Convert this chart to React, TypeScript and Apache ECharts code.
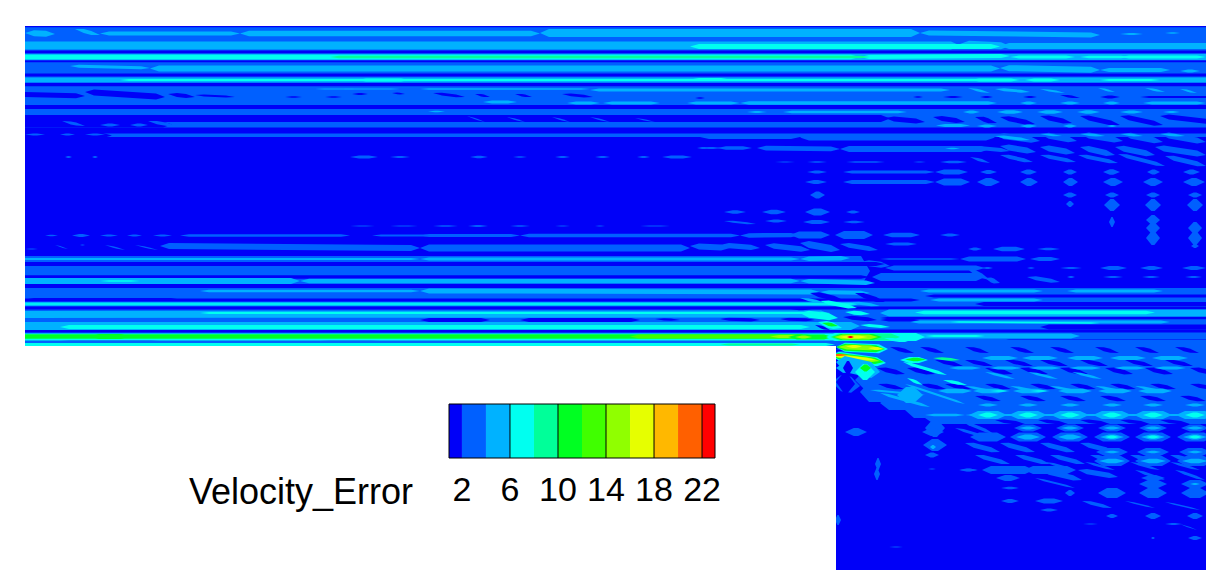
import React, { useEffect, useRef } from "react";
import * as echarts from "echarts";

// Contour levels of the colour scale (blue to red)
const levelColors = ["#0000f8", "#0060ff", "#00b2ff", "#00fff0", "#00ff99", "#00ff22", "#40ff00", "#90ff00", "#e6ff00", "#ffb800", "#ff6000", "#ff0000"];
// Legend: level edges on the value axis
const legendEdges = [0.92, 2, 4, 6, 8, 10, 12, 14, 16, 18, 20, 22, 23.08];
const legendTicks = [2, 6, 10, 14, 18, 22];
const legendLines = [6, 10, 14, 18, 22];
const legendTitle = "Velocity_Error";

// Domain: [x0, y0, x1, y1]
const domainBlocks = [[25, 26, 1206, 346], [836, 346, 1206, 570]];
const notchBlock = [25, 346, 836, 570];

// Contour features: [x0, y0, x1, y1, halfThickness, level]
const upperBase = [
  [0, 82, 1240, 82, 55, 1],
];
const upperGaps = [
  [0, 26.2, 1240, 26.2, 1, 0],
  [0, 52, 1240, 52, 1.5, 0],
  [0, 61, 1240, 61, 1.2, 0],
  [0, 75, 1240, 75, 1.6, 0],
  [0, 84.5, 1240, 84.5, 1.8, 0],
  [0, 107, 1240, 107, 2, 0],
  [0, 118.5, 890, 118.5, 3.6, 0],
  [0, 130.5, 1240, 130.5, 3, 0],
  [0, 124.5, 172, 124.5, 3, 0],
  [0, 135.5, 112, 135.5, 2.5, 0],
  [0, 94, 85, 96, 2.5, 0],
  [85, 92, 165, 97, 3, 0],
  [168, 94, 195, 97, 2, 0],
  [195, 95, 235, 97, 1, 0],
  [285, 97, 302, 97, 0.8, 0],
  [325, 97, 342, 97, 0.8, 0],
  [352, 94, 368, 94, 1, 0],
  [392, 93, 405, 94, 0.9, 0],
  [433, 93, 465, 97, 1.3, 0],
  [475, 94, 490, 97, 1.2, 0],
  [515, 94, 532, 97, 1.2, 0],
  [562, 94, 593, 97, 1.3, 0],
  [695, 98, 705, 98, 0.8, 0],
  [913, 97, 923, 97, 0.8, 0],
  [943, 97, 963, 97, 1, 0],
  [980, 97, 993, 97, 1, 0],
  [1023, 97, 1037, 97, 1, 0],
  [1060, 95, 1080, 98, 1.2, 0],
  [1100, 97, 1120, 97, 1.5, 0],
  [1140, 97, 1240, 97, 1, 0],
  [885, 118, 925, 122, 2.5, 0],
  [933, 117, 965, 122, 2.5, 0],
  [975, 117, 997, 123, 2.5, 0],
  [1000, 117, 1035, 124, 2.5, 0],
  [1040, 116, 1072, 123, 2.5, 0],
  [1080, 116, 1120, 125, 2.5, 0],
  [1120, 116, 1163, 125, 2.5, 0],
  [1160, 116, 1240, 125, 2.5, 0],
];
const upperStreaks = [
  [62, 121, 85, 126, 1.5, 1],
  [100, 125, 120, 125, 1.6, 1],
  [130, 125, 148, 125, 1.6, 1],
  [148, 121, 176, 126, 1.7, 1],
  [25, 134.5, 45, 134.5, 1, 1],
  [60, 134.5, 75, 134.5, 1, 1],
  [85, 134.5, 105, 134.5, 1, 1],
  [467, 116, 485, 122, 0.7, 1],
  [507, 117, 525, 122, 0.7, 1],
  [552, 117, 570, 122, 0.7, 1],
  [590, 117, 610, 122, 0.7, 1],
  [635, 118, 655, 122, 0.7, 1],
  [800, 137.5, 995, 137.5, 3, 1],
  [700, 137, 800, 137, 2, 1],
  [995, 135, 1040, 141, 3, 1],
  [1040, 134, 1077, 141, 3, 1],
  [1080, 134, 1123, 141, 3, 1],
  [1122, 134, 1163, 142, 3, 1],
  [1160, 134, 1206, 142, 3, 1],
  [700, 148, 722, 148, 1, 1],
  [717, 148, 752, 148, 1.8, 1],
  [757, 148, 840, 149, 2.4, 1],
  [840, 149, 990, 149, 3, 1],
  [970, 147, 1010, 151, 2, 1],
  [1000, 146, 1036, 152, 3, 1],
  [1040, 147, 1075, 153, 3, 1],
  [1080, 147, 1115, 155, 3, 1],
  [1115, 147, 1155, 155, 3, 1],
  [1155, 147, 1206, 155, 3, 1],
  [970, 157, 990, 163, 1.5, 1],
  [1000, 155, 1033, 162, 2, 1],
  [1040, 155, 1076, 162, 2, 1],
  [1078, 155, 1118, 163, 2, 1],
  [1118, 154, 1165, 166, 2, 1],
  [1165, 156, 1206, 166, 2.5, 1],
  [65, 157, 72, 157, 1, 1],
  [92, 157, 98, 157, 1, 1],
  [350, 157, 378, 157, 1.5, 1],
  [390, 157, 410, 157, 1, 1],
  [470, 157, 488, 157, 1.2, 1],
  [513, 157, 527, 157, 0.8, 1],
  [555, 157, 570, 157, 1, 1],
  [595, 157, 610, 157, 1, 1],
  [637, 157, 650, 157, 1, 1],
  [662, 157, 692, 157, 1.4, 1],
  [697, 148, 710, 148, 1, 1],
  [807, 162, 827, 162, 0.7, 1],
  [846, 162, 885, 162, 0.8, 1],
  [913, 162, 926, 162, 0.6, 1],
  [940, 162, 967, 162, 1.2, 1],
  [775, 162, 795, 162, 0.6, 1],
  [807, 172, 827, 172, 1.5, 1],
  [843, 172, 935, 172, 1.4, 1],
  [935, 172, 968, 172, 2.5, 1],
  [980, 172, 997, 172, 2, 1],
  [1020, 172, 1037, 172, 2.4, 1],
  [1063, 172, 1077, 172, 2.4, 1],
  [1103, 172, 1120, 172, 2.8, 1],
  [1147, 172, 1160, 172, 2.4, 1],
  [1183, 172, 1200, 172, 2.4, 1],
  [805, 182, 827, 182, 2, 1],
  [843, 182, 935, 182, 2, 1],
  [935, 182, 970, 182, 3.5, 1],
  [977, 182, 1000, 182, 4, 1],
  [1020, 182, 1038, 182, 4, 1],
  [1063, 182, 1078, 182, 4, 1],
  [1103, 182, 1123, 182, 4, 1],
  [1143, 182, 1163, 182, 4, 1],
  [1183, 182, 1205, 182, 4, 1],
];
const upperCores = [
  [25, 33, 55, 34, 3, 2],
  [75, 29, 100, 35, 2, 2],
  [100, 33.5, 240, 33.5, 2, 2],
  [240, 33.5, 540, 33.5, 2.8, 2],
  [540, 33, 920, 33, 4, 2],
  [920, 33, 1100, 35, 2.5, 2],
  [1120, 34, 1143, 34, 1, 2],
  [1165, 33, 1180, 33, 0.8, 2],
  [0, 45.5, 960, 45.5, 4, 2],
  [960, 44, 1010, 46, 3.5, 2],
  [1000, 46, 1240, 46, 3, 2],
  [690, 46.5, 1000, 46.5, 2.4, 3],
  [0, 57, 1240, 57, 3.2, 2],
  [0, 57, 860, 57, 2.2, 3],
  [860, 57, 1010, 56, 2, 3],
  [1010, 57, 1075, 57, 1.5, 3],
  [1080, 57, 1130, 57, 1.2, 3],
  [1120, 57, 1206, 57, 1.5, 3],
  [330, 57, 870, 57, 1.2, 4],
  [70, 66, 150, 68, 1.5, 2],
  [150, 68.5, 1000, 68.5, 3, 2],
  [1000, 68, 1100, 70, 3, 2],
  [1100, 70, 1170, 70, 2, 2],
  [1180, 71, 1200, 71, 1.5, 2],
  [0, 80, 1240, 80, 2.4, 2],
  [120, 80, 1000, 80, 1, 3],
  [357, 80, 410, 80, 1.5, 3],
  [690, 79.5, 730, 79.5, 1.4, 3],
  [970, 80, 1020, 80, 1.4, 3],
  [1025, 80, 1060, 80, 1.4, 3],
  [1100, 80, 1160, 80, 1.1, 3],
  [315, 89, 355, 89, 0.6, 2],
  [343, 89, 400, 89, 0.6, 2],
  [420, 89, 590, 89, 0.8, 2],
  [590, 90, 950, 90, 1.6, 2],
  [968, 88, 990, 93, 1.2, 2],
  [995, 89, 1030, 92, 1.4, 2],
  [1040, 89, 1065, 93, 1, 2],
  [1098, 88, 1115, 92, 1, 2],
  [1145, 88, 1165, 92, 1.2, 2],
  [1180, 89, 1197, 93, 1, 2],
  [483, 102, 517, 102, 1.6, 2],
  [567, 103, 600, 103, 1.6, 2],
  [603, 103, 660, 103, 1.6, 2],
  [687, 103, 740, 103, 1.6, 2],
  [740, 103, 997, 103, 1.8, 2],
  [1020, 103, 1037, 103, 1.5, 2],
  [1060, 103, 1080, 103, 1.5, 2],
  [1103, 103, 1120, 103, 1.5, 2],
  [1143, 103, 1206, 103, 1.5, 2],
  [428, 111.5, 445, 111.5, 0.8, 2],
  [747, 112, 767, 112, 0.9, 2],
  [783, 112, 907, 112, 1.2, 2],
  [963, 112, 980, 112, 1.5, 2],
  [997, 112, 1023, 112, 1.8, 2],
  [1037, 112, 1063, 112, 1.8, 2],
  [1077, 112, 1100, 112, 1.8, 2],
  [1120, 112, 1143, 112, 1.5, 2],
  [1163, 112, 1180, 112, 1, 2],
  [936, 125.5, 970, 125.5, 1.5, 2],
  [977, 126, 997, 126, 1.5, 2],
  [1020, 126, 1037, 126, 1.5, 2],
  [1063, 126, 1077, 126, 1.5, 2],
  [1107, 126, 1117, 126, 1, 2],
  [995, 136, 1030, 140, 1.5, 2],
  [1040, 134, 1062, 136, 1, 2],
  [1080, 134, 1105, 136, 1.2, 2],
  [1120, 134, 1143, 136, 1.2, 2],
  [1160, 134, 1185, 136, 1.2, 2],
  [945, 148.5, 960, 148.5, 0.7, 2],
];
const lowerBase = [
  [350, 226, 375, 226, 0.6, 1],
  [390, 226, 418, 226, 0.6, 1],
  [433, 226, 458, 226, 0.8, 1],
  [468, 226, 488, 226, 0.9, 1],
  [510, 226, 530, 226, 0.7, 1],
  [555, 226, 570, 226, 0.6, 1],
  [595, 226, 605, 226, 0.5, 1],
  [640, 226, 670, 226, 0.6, 1],
  [724, 212, 746, 212, 1.8, 1],
  [762, 212, 786, 212, 2.2, 1],
  [805, 212, 830, 212, 3.5, 1],
  [724, 221, 756, 224, 1, 1],
  [765, 221, 787, 221, 1.4, 1],
  [803, 222, 830, 222, 2, 1],
  [810, 195, 825, 195, 3.5, 1],
  [846, 212, 860, 212, 1.4, 1],
  [843, 222, 865, 222, 1.3, 1],
  [45, 235.5, 58, 235.5, 0.8, 1],
  [72, 235.5, 90, 235.5, 1.4, 1],
  [100, 235.5, 118, 235.5, 0.9, 1],
  [127, 235.5, 142, 235.5, 1, 1],
  [153, 235.5, 172, 235.5, 1, 1],
  [180, 235.5, 350, 235.5, 1.3, 1],
  [372, 235.5, 435, 235.5, 1, 1],
  [420, 235.5, 520, 235.5, 1.4, 1],
  [520, 235.5, 740, 235.5, 1.8, 1],
  [740, 235.5, 800, 235, 2.2, 1],
  [790, 235, 830, 235, 3.5, 1],
  [835, 235, 873, 235, 4, 1],
  [883, 235, 920, 235, 2.3, 1],
  [940, 235, 960, 235, 1.6, 1],
  [25, 249, 38, 249, 0.4, 1],
  [55, 245, 68, 249, 0.5, 1],
  [80, 245, 85, 245, 0.6, 1],
  [105, 245, 125, 250, 0.7, 1],
  [135, 245, 158, 250, 0.7, 1],
  [160, 246, 420, 248, 3, 1],
  [420, 248, 690, 248, 3.5, 1],
  [690, 246, 730, 248, 3, 1],
  [720, 245, 760, 248, 2.6, 1],
  [765, 245, 810, 250, 2.8, 1],
  [800, 243, 840, 250, 3.5, 1],
  [840, 244, 878, 250, 2.3, 1],
  [885, 244, 917, 244, 1.6, 1],
  [968, 249, 982, 249, 1.4, 1],
  [993, 249, 1025, 249, 2.3, 1],
  [1037, 249, 1060, 249, 1.3, 1],
  [0, 271, 870, 271, 15, 1],
  [860, 262, 890, 266, 3, 1],
  [885, 268, 985, 268, 2.6, 1],
  [965, 267, 990, 280, 2.4, 1],
  [880, 259, 960, 259, 0.8, 1],
  [960, 259, 1026, 259, 2.5, 1],
  [1030, 259, 1060, 259, 2, 1],
  [982, 268, 993, 268, 1, 1],
  [1027, 268, 1035, 268, 0.8, 1],
  [1060, 268, 1082, 268, 1, 1],
  [1100, 268, 1127, 268, 2, 1],
  [1140, 268, 1163, 268, 2, 1],
  [1182, 268, 1206, 268, 2, 1],
  [1067, 277, 1075, 277, 1, 1],
  [1103, 277, 1123, 277, 1, 1],
  [1142, 277, 1160, 277, 1, 1],
  [1185, 277, 1202, 277, 1, 1],
  [872, 277, 985, 277, 4, 1],
  [985, 278, 1000, 283, 2.5, 1],
  [1027, 277, 1060, 282, 2, 1],
  [0, 316, 1240, 316, 30, 1],
];
const lowerGaps = [
  [0, 264, 885, 264, 2, 0],
  [0, 277, 870, 277, 1.8, 0],
  [0, 286, 1240, 286, 2, 0],
  [0, 300, 920, 300, 1.4, 0],
  [0, 308, 1240, 308, 1.6, 0],
  [0, 331, 1240, 331, 1.5, 0],
  [60, 340, 160, 340, 0.8, 0],
  [320, 340, 380, 340, 0.6, 0],
  [420, 320, 490, 320, 2, 0],
  [520, 320, 640, 320, 2, 0],
  [655, 319, 680, 320, 1.2, 0],
  [720, 319, 760, 320, 1.6, 0],
  [780, 319, 815, 320, 1.5, 0],
  [925, 296, 1240, 296, 1.5, 0],
  [975, 304, 1240, 304, 2, 0],
  [880, 318, 1240, 318, 1.3, 0],
  [1040, 327, 1240, 327, 2.5, 0],
  [1000, 341, 1240, 341, 1.5, 0],
  [25, 299.5, 180, 299.5, 1.6, 0],
];
const lowerCores = [
  [0, 259, 420, 259, 0.9, 2],
  [420, 259, 800, 259, 1.4, 2],
  [800, 259, 850, 258, 2.2, 2],
  [0, 281, 300, 281, 3, 2],
  [300, 281, 800, 281, 2.3, 2],
  [800, 281, 875, 283, 2.2, 2],
  [100, 281, 140, 281, 0.8, 3],
  [200, 291, 420, 291, 1.2, 2],
  [420, 291, 820, 292, 2.4, 2],
  [820, 292, 870, 293, 2, 2],
  [920, 291, 1043, 291, 1.5, 2],
  [1067, 291, 1163, 291, 1.5, 2],
  [930, 300, 1043, 300, 1.5, 2],
  [0, 304, 860, 304, 2, 2],
  [0, 304, 860, 304, 0.8, 3],
  [0, 314.5, 830, 314, 3.5, 2],
  [200, 313, 830, 313, 1, 3],
  [880, 313, 1240, 313, 3.5, 2],
  [915, 312.5, 1155, 312.5, 1.8, 3],
  [910, 322, 1170, 322, 1.5, 2],
  [950, 322, 1100, 323, 0.7, 3],
  [0, 326, 860, 326, 4, 2],
  [60, 327, 810, 327, 2, 3],
  [0, 337, 860, 337, 3.5, 3],
  [0, 336.5, 815, 336.5, 2.6, 4],
  [0, 336.5, 810, 336.5, 2, 5],
  [90, 336.5, 130, 336.5, 2.4, 5],
  [630, 336.5, 810, 336.5, 2, 6],
  [770, 336.5, 805, 336.5, 1.5, 7],
  [0, 344.5, 835, 344.5, 1.5, 3],
  [720, 344.5, 800, 344.5, 1, 4],
  [870, 336, 1080, 336, 2.5, 2],
  [925, 336, 985, 336, 1, 3],
];
// Cross-hatching above the step corner
const stepHatch = [
  [810, 293, 843, 300, 2.5, 0],
  [855, 293, 885, 302, 2.5, 0],
  [790, 309, 812, 309, 1.2, 0],
  [843, 317, 877, 320, 2, 0],
  [815, 325, 830, 330, 1.5, 0],
  [880, 320, 920, 320, 1.5, 0],
  [850, 302, 880, 306, 1.5, 2],
  [820, 301, 857, 308, 2.2, 3],
  [800, 298, 825, 303, 1.5, 2],
  [808, 315, 828, 315, 2.4, 5],
  [800, 313, 838, 318, 3.5, 3],
  [845, 312, 870, 314, 2, 3],
  [818, 322, 842, 328, 3.2, 3],
  [822, 323, 838, 326, 1.8, 5],
  [860, 325, 890, 327, 1.5, 3],
];
// Hot spots at the step corner and the streaks that leave it
const nozzle = [
  [788, 337, 833, 337, 2.6, 5],
  [795, 337, 812, 337, 1.5, 7],
  [826, 337, 925, 337, 4, 3],
  [830, 337, 900, 337, 3.6, 4],
  [832, 337, 882, 337, 3, 5],
  [834, 337, 878, 337, 2.4, 7],
  [838, 337, 868, 337, 1.4, 8],
  [847, 337, 854, 337, 0.9, 11],
  [836, 347, 888, 349, 4.5, 3],
  [836, 347, 885, 349, 3.5, 5],
  [838, 347, 880, 348, 2.4, 7],
  [846, 346.5, 862, 346.5, 1.5, 8],
  [868, 348, 884, 349, 1.5, 8],
  [830, 355, 886, 363, 4.5, 3],
  [830, 355, 884, 362, 3.2, 5],
  [830, 355, 880, 361, 2, 7],
  [830, 355, 876, 360, 1.2, 8],
  [830, 355, 848, 355, 1.1, 10],
  [830, 350.5, 843, 350.5, 0.9, 0],
  [836, 362, 880, 372, 8, 2],
  [855, 372, 875, 372, 8, 3],
  [860, 368, 871, 368, 3.5, 5],
  [832, 382, 860, 386, 8, 1],
  [836, 368, 854, 368, 5, 2],
  [836, 382, 855, 384, 10, 0],
  [843, 368, 853, 368, 7, 0],
  [900, 360, 928, 360, 3, 3],
  [905, 359.5, 926, 359.5, 1.8, 5],
  [884, 338, 908, 342, 1.5, 3],
];
const lowerRight = [
  [836, 350, 1240, 350, 10, 1],
  [850, 366, 1240, 366, 11, 1],
  [855, 380, 1240, 380, 9, 1],
  [860, 392, 1240, 392, 10, 1],
  [880, 403, 1240, 403, 7, 1],
  [905, 410, 1240, 410, 8, 1],
  [925, 418, 1240, 418, 6, 1],
  [925, 428, 945, 428, 9, 1],
];
// Slanted gaps and streaks, one row per y: [y, dx, dy, halfThickness, level, xs]
const slantRows = [
  [347, 24, 6, 2, 0, [890, 920, 965, 1010, 1050, 1095, 1135, 1175]],
  [360, 28, 6, 2, 0, [935, 965, 1005, 1040, 1080, 1125, 1165]],
  [368, 28, 6, 2.4, 0, [877, 907, 985, 1020, 1060, 1105, 1145, 1190]],
  [384, 26, 5, 2, 0, [878, 920, 945, 985, 1030, 1070, 1110, 1150, 1190]],
  [396, 26, 5, 2, 0, [975, 1020, 1060, 1100, 1140, 1180]],
  [420, 30, 4, 1.8, 0, [995, 1038, 1080, 1120, 1160]],
  [432, 30, 2, 1.4, 0, [1000, 1040, 1085, 1125, 1165]],
  [443, 28, 4, 2, 0, [1000, 1040, 1085, 1125, 1165]],
  [362, 44, 13, 1.6, 3, [903]],
  [358, 27, 2, 1.4, 4, [933]],
  [380, 24, 5, 1.6, 3, [943]],
  [378, 16, 7, 1.6, 3, [907]],
  [372, 30, 7, 1.2, 2, [985, 1028, 1072]],
  [386, 30, 6, 1.2, 2, [965, 1010, 1050, 1095, 1135]],
  [420, 34, 14, 1.8, 1, [960]],
  [428, 34, 10, 1.5, 1, [955]],
  [443, 35, 9, 2.6, 1, [965, 1000, 1040, 1080]],
  [455, 35, 9, 2.2, 1, [975, 1015, 1050, 1090, 1130, 1170]],
  [462, 30, 8, 1.2, 1, [1045, 1085, 1130, 1170]],
  [470, 30, 10, 1.5, 1, [1135, 1175]],
];
// Repeating lens rows: [y, halfLength, halfThickness, level, xs]
const latticeRows = [
  [358, 18, 2, 2, [1000, 1040, 1085, 1128, 1170]],
  [368, 16, 1.6, 2, [965, 1005, 1045, 1085, 1130, 1170]],
  [391, 17, 2.2, 2, [955, 990, 1030, 1075, 1115, 1155]],
  [391, 10, 0.8, 3, [1000, 1040]],
  [395, 13, 8, 2, [910]],
  [405, 10, 1.5, 2, [988, 1028, 1070, 1112, 1153, 1195]],
  [415, 45, 1, 2, [1010, 1050, 1092, 1132, 1175]],
  [415, 19, 4, 2, [988, 1028, 1070, 1112, 1153, 1195]],
  [415, 10, 2.4, 3, [988, 1028, 1070, 1112, 1153, 1195]],
  [428, 14, 3.5, 1, [1028, 1070, 1112, 1153, 1195]],
  [428, 9, 1.4, 2, [1028, 1070, 1112, 1153, 1195]],
  [437, 18, 4.5, 1, [988, 1028, 1070, 1112, 1153, 1195]],
  [437, 12, 2.6, 2, [1028, 1070, 1112, 1153, 1195]],
  [437, 7, 1.4, 3, [1112, 1153, 1195]],
  [452, 16, 4, 1, [1112, 1153, 1195]],
  [452, 8, 1.3, 2, [1112, 1153, 1195]],
  [461, 18, 5, 1, [1112, 1153, 1195]],
  [461, 13, 2.2, 2, [1112, 1153, 1195]],
  [470, 26, 4, 1, [1008, 1050]],
  [470, 9, 1.4, 1, [968]],
  [478, 12, 3, 1, [1008, 1153]],
  [484, 14, 4, 1, [1153, 1195]],
  [484, 5, 1, 2, [1195]],
  [493, 14, 5, 1, [1112, 1153, 1195]],
  [488, 9, 1.2, 1, [1010]],
  [493, 5, 3, 1, [1070]],
  [501, 9, 2, 1, [1010]],
  [501, 14, 2.6, 1, [1049]],
  [510, 9, 1.4, 1, [1049]],
  [516, 6, 2, 1, [1112]],
  [516, 8, 3, 1, [1153, 1195]],
  [538, 7, 2, 1, [1195]],
  [538, 2, 1, 1, [1153]],
  [195, 7, 2.4, 1, [1070, 1112, 1153, 1195]],
  [205, 8, 6, 1, [1112, 1153, 1195]],
  [204, 4, 3, 1, [1070]],
  [220, 7, 5, 1, [1153]],
  [228, 7, 6, 1, [1153, 1195]],
  [238, 7, 7, 1, [1153, 1195]],
  [222, 3, 5, 1, [1112]],
  [246, 4, 2, 1, [1195]],
  [432, 11, 4, 1, [856]],
  [432, 11, 4, 1, [933]],
  [445, 12, 6, 1, [935]],
  [447, 3, 2, 2, [933]],
  [455, 7, 2.4, 1, [932]],
  [469, 4, 0.6, 1, [932]],
  [464, 3, 6, 1, [878]],
  [474, 3, 6, 1, [877]],
  [520, 3, 5, 1, [838]],
  [547, 7, 0.5, 1, [896]],
];
const lowerStreaks = [
  [870, 390, 925, 395, 1, 2],
  [880, 393, 930, 407, 1.5, 2],
  [905, 384, 965, 404, 1.2, 2],
  [925, 415, 965, 415, 1.3, 2],
  [960, 470, 978, 470, 1.2, 1],
  [1040, 470, 1082, 480, 2.6, 1],
  [1078, 470, 1118, 477, 2.6, 1],
  [1035, 478, 1075, 488, 1, 1],
  [1082, 501, 1112, 508, 1.8, 1],
  [1125, 501, 1155, 508, 0.8, 1],
  [1165, 502, 1200, 510, 0.8, 1],
  [1083, 524, 1098, 524, 0.6, 1],
  [1165, 524, 1182, 524, 1, 1],
  [1180, 524, 1197, 530, 0.5, 1],
];

const expand = (): number[][] => {
  const slants = slantRows.flatMap(([y, dx, dy, t, l, xs]: any) => xs.map((x: number) => [x, y, x + dx, y + dy, t, l]));
  const lenses = latticeRows.flatMap(([y, h, t, l, xs]: any) => xs.map((x: number) => [x - h, y, x + h, y, t, l]));
  return [
    ...upperBase, ...upperGaps, ...upperStreaks, ...upperCores,
    ...lowerBase, ...lowerGaps, ...lowerCores, ...stepHatch,
    ...lowerRight, ...slants.filter((s: number[]) => s[5] === 0), ...lowerStreaks, ...slants.filter((s: number[]) => s[5] !== 0),
    ...lenses, ...nozzle,
  ];
};

const rectItem = (fill: string) => (_: any, api: any) => {
  const a = api.coord([api.value(0), api.value(1)]);
  const b = api.coord([api.value(2), api.value(3)]);
  return { type: "rect", shape: { x: Math.min(a[0], b[0]), y: Math.min(a[1], b[1]), width: Math.abs(b[0] - a[0]), height: Math.abs(b[1] - a[1]) }, style: { fill } };
};

const lensItem = (_: any, api: any) => {
  const a = api.coord([api.value(0), api.value(1)]);
  const b = api.coord([api.value(2), api.value(3)]);
  const t = api.size([0, api.value(4)])[1];
  const dx = b[0] - a[0];
  const dy = b[1] - a[1];
  const len = Math.hypot(dx, dy) || 1;
  const tau = Math.min(0.4, 9 / len);
  const p = [a[0] + dx * tau, a[1] + dy * tau];
  const q = [b[0] - dx * tau, b[1] - dy * tau];
  return {
    type: "polygon",
    shape: { points: [a, [p[0], p[1] - t], [q[0], q[1] - t], b, [q[0], q[1] + t], [p[0], p[1] + t]] },
    style: { fill: levelColors[api.value(5)] },
  };
};

export default function App() {
  const ref = useRef<HTMLDivElement>(null);
  useEffect(() => {
    const chart = echarts.init(ref.current!, undefined, { renderer: "svg" });
    const legendBands = legendEdges.slice(0, -1).map((e, i) => [e, 0, legendEdges[i + 1], 1, i]);
    const last = legendEdges[legendEdges.length - 1];
    chart.setOption({
      animation: false,
      backgroundColor: "#ffffff",
      title: {
        text: legendTitle, left: 184, top: 468,
        textStyle: { fontFamily: "Liberation Sans", fontSize: 36, fontWeight: "normal", color: "#000" },
      },
      grid: [
        { left: 25, top: 26, width: 1181, height: 544 },
        { left: 449, top: 404, width: 266, height: 54 },
      ],
      xAxis: [
        { type: "value", min: 25, max: 1206, show: false, gridIndex: 0 },
        {
          type: "value", min: legendEdges[0], max: last, gridIndex: 1, z: 10,
          axisLine: { show: false }, axisTick: { show: false }, splitLine: { show: false },
          axisLabel: { customValues: legendTicks, margin: 14, color: "#000", fontFamily: "Liberation Sans", fontSize: 34 },
        },
      ],
      yAxis: [
        { type: "value", min: 26, max: 570, inverse: true, show: false, gridIndex: 0 },
        { type: "value", min: 0, max: 1, show: false, gridIndex: 1 },
      ],
      series: [
        { type: "custom", xAxisIndex: 0, yAxisIndex: 0, silent: true, renderItem: rectItem(levelColors[0]), data: domainBlocks },
        { type: "custom", xAxisIndex: 0, yAxisIndex: 0, silent: true, clip: true, renderItem: lensItem, data: expand() },
        { type: "custom", xAxisIndex: 0, yAxisIndex: 0, silent: true, renderItem: rectItem("#ffffff"), data: [notchBlock] },
        {
          type: "custom", xAxisIndex: 1, yAxisIndex: 1, silent: true,
          renderItem: (_: any, api: any) => {
            const a = api.coord([api.value(0), 1]);
            const b = api.coord([api.value(2), 0]);
            return { type: "rect", shape: { x: a[0], y: a[1], width: b[0] - a[0], height: b[1] - a[1] }, style: { fill: levelColors[api.value(4)] } };
          },
          data: legendBands,
        },
        {
          type: "custom", xAxisIndex: 1, yAxisIndex: 1, silent: true,
          renderItem: (_: any, api: any) => {
            const a = api.coord([api.value(0), 1]);
            const b = api.coord([api.value(0), 0]);
            return { type: "line", shape: { x1: a[0], y1: a[1], x2: b[0], y2: b[1] }, style: { stroke: "#000", lineWidth: 1 } };
          },
          data: [legendEdges[0], ...legendLines, last].map((v) => [v, 0]),
        },
        {
          type: "custom", xAxisIndex: 1, yAxisIndex: 1, silent: true,
          renderItem: (_: any, api: any) => {
            const a = api.coord([api.value(0), api.value(1)]);
            const b = api.coord([api.value(2), api.value(1)]);
            return { type: "line", shape: { x1: a[0], y1: a[1], x2: b[0], y2: b[1] }, style: { stroke: "#000", lineWidth: 1 } };
          },
          data: [[legendEdges[0], 0, last], [legendEdges[0], 1, last]],
        },
      ],
    });
    return () => chart.dispose();
  }, []);
  return <div ref={ref} style={{ position: "fixed", left: 0, top: 0, width: 1232, height: 581 }} />;
}
